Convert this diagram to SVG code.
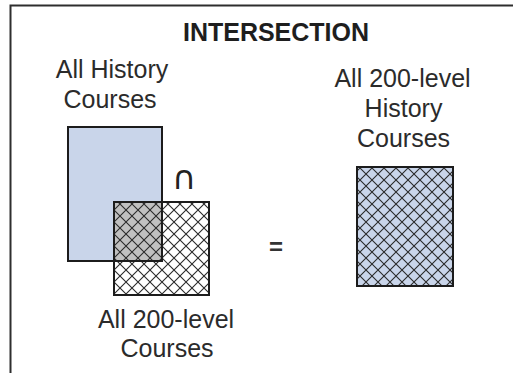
<svg xmlns="http://www.w3.org/2000/svg" width="513" height="373" viewBox="0 0 513 373">
  <style>
    .lbl { font-family: "Liberation Sans", Arial, sans-serif; font-size: 25px; fill: #2b2b2b; text-anchor: middle; }
    .title { font-weight: bold; fill: #1e1e1e; }
    .frame { fill: none; stroke: #2e2e2e; stroke-width: 2; }
    .box { fill: none; stroke: #1c1c1c; stroke-width: 2; }
  </style>
  <defs>
    <pattern id="hatch" patternUnits="userSpaceOnUse" width="12" height="12" x="0" y="0">
      <path d="M0,0 L12,12 M12,0 L0,12" stroke="#2a2a2a" stroke-width="1.1" fill="none"/>
    </pattern>
  </defs>
  <rect width="513" height="373" fill="#ffffff"/>
  <g id="frame">
    <path class="frame" d="M10.5,373 V5.5 H513"/>
  </g>
  <g id="title">
    <text class="lbl title" x="276" y="41">INTERSECTION</text>
  </g>
  <g id="history-courses">
    <rect x="68" y="127" width="94" height="134" fill="#c9d5ea"/>
    <text class="lbl" x="112" y="78">All History</text>
    <text class="lbl" x="110" y="108">Courses</text>
  </g>
  <g id="level-courses">
    <rect x="114" y="202" width="95" height="93" fill="#ffffff"/>
    <rect x="114" y="202" width="48" height="59" fill="#c0c0c0"/>
    <rect x="114" y="202" width="95" height="93" fill="url(#hatch)"/>
    <text class="lbl" x="166" y="328">All 200-level</text>
    <text class="lbl" x="167" y="357">Courses</text>
  </g>
  <g id="outlines">
    <rect class="box" x="68" y="127" width="94" height="134"/>
    <rect class="box" x="114" y="202" width="95" height="93"/>
  </g>
  <g id="intersect-symbol">
    <text x="184" y="189" font-family="DejaVu Sans, sans-serif" font-size="33" fill="#222" text-anchor="middle">∩</text>
  </g>
  <g id="equals">
    <text x="276" y="255" font-family="Liberation Sans, Arial, sans-serif" font-size="24" font-weight="bold" fill="#333" text-anchor="middle">=</text>
  </g>
  <g id="result">
    <rect x="357" y="167" width="96" height="119" fill="#c9d5ea"/>
    <rect x="357" y="167" width="96" height="119" fill="url(#hatch)"/>
    <rect class="box" x="357" y="167" width="96" height="119"/>
    <text class="lbl" x="402.5" y="87">All 200-level</text>
    <text class="lbl" x="403.5" y="117">History</text>
    <text class="lbl" x="403.5" y="147">Courses</text>
  </g>
  <g id="connectors"></g>
</svg>
